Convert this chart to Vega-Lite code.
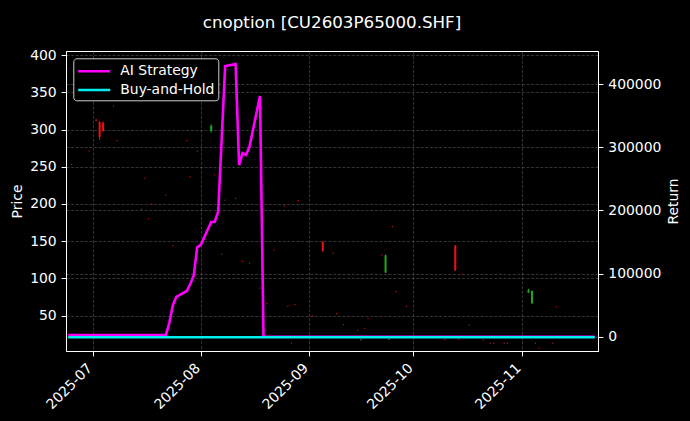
{
  "$schema": "https://vega.github.io/schema/vega-lite/v6.json",
  "width": 532,
  "height": 300,
  "autosize": {"type": "none"},
  "padding": {"left": 66, "top": 51, "right": 92, "bottom": 70},
  "background": "#000000",
  "title": {
    "text": "cnoption [CU2603P65000.SHF]",
    "color": "#ffffff",
    "font": "DejaVu Sans",
    "fontSize": 16.7,
    "fontWeight": "normal",
    "anchor": "middle",
    "frame": "group",
    "offset": 16
  },
  "config": {
    "view": {"stroke": "#ffffff", "strokeWidth": 1},
    "font": "DejaVu Sans",
    "axis": {
      "domainColor": "#ffffff",
      "tickColor": "#ffffff",
      "labelColor": "#ffffff",
      "titleColor": "#ffffff",
      "labelFont": "DejaVu Sans",
      "titleFont": "DejaVu Sans",
      "labelFontSize": 13.9,
      "titleFontSize": 13.9,
      "titleFontWeight": "normal",
      "tickSize": 4.9,
      "labelPadding": 4.9,
      "titlePadding": 5.6,
      "gridColor": "#808080",
      "gridOpacity": 0.5,
      "gridDash": [3, 1.6],
      "gridWidth": 0.8
    }
  },
  "datasets": {
    "candles": [
      {"date": "2025-06-25", "open": 253, "high": 253.8, "low": 252.2, "close": 253},
      {"date": "2025-06-30", "open": 271, "high": 271.8, "low": 270.2, "close": 271},
      {"date": "2025-07-02", "open": 313, "high": 314, "low": 311.5, "close": 312},
      {"date": "2025-07-03", "open": 310, "high": 311, "low": 286, "close": 290},
      {"date": "2025-07-04", "open": 309, "high": 311, "low": 297, "close": 298},
      {"date": "2025-07-07", "open": 331.5, "high": 332.3, "low": 330.7, "close": 331.5},
      {"date": "2025-07-08", "open": 285, "high": 285.8, "low": 284.2, "close": 285},
      {"date": "2025-07-15", "open": 193, "high": 193.8, "low": 192.2, "close": 193},
      {"date": "2025-07-16", "open": 234.5, "high": 235.3, "low": 233.7, "close": 234.5},
      {"date": "2025-07-17", "open": 180, "high": 180.8, "low": 179.2, "close": 180},
      {"date": "2025-07-18", "open": 200, "high": 200.8, "low": 199.2, "close": 200},
      {"date": "2025-07-22", "open": 212, "high": 212.8, "low": 211.2, "close": 212},
      {"date": "2025-07-24", "open": 144, "high": 144.8, "low": 143.2, "close": 144},
      {"date": "2025-07-28", "open": 285, "high": 285.8, "low": 284.2, "close": 285},
      {"date": "2025-07-29", "open": 236.5, "high": 237.3, "low": 235.7, "close": 236.5},
      {"date": "2025-07-31", "open": 271, "high": 271.8, "low": 270.2, "close": 271},
      {"date": "2025-08-04", "open": 298, "high": 307, "low": 296, "close": 305},
      {"date": "2025-08-05", "open": 239, "high": 239.8, "low": 238.2, "close": 239},
      {"date": "2025-08-07", "open": 132.5, "high": 133.3, "low": 131.7, "close": 132.5},
      {"date": "2025-08-08", "open": 205, "high": 205.8, "low": 204.2, "close": 205},
      {"date": "2025-08-11", "open": 207.5, "high": 208.3, "low": 206.7, "close": 207.5},
      {"date": "2025-08-13", "open": 123, "high": 123.8, "low": 122.2, "close": 123},
      {"date": "2025-08-15", "open": 120.5, "high": 121.3, "low": 119.7, "close": 120.5},
      {"date": "2025-08-18", "open": 87, "high": 87.8, "low": 86.2, "close": 87},
      {"date": "2025-08-20", "open": 66.5, "high": 67.3, "low": 65.7, "close": 66.5},
      {"date": "2025-08-22", "open": 138, "high": 138.8, "low": 137.2, "close": 138},
      {"date": "2025-08-25", "open": 197, "high": 197.8, "low": 196.2, "close": 197},
      {"date": "2025-08-26", "open": 63, "high": 63.8, "low": 62.2, "close": 63},
      {"date": "2025-08-27", "open": 13, "high": 13.8, "low": 12.2, "close": 13},
      {"date": "2025-08-28", "open": 65, "high": 65.8, "low": 64.2, "close": 65},
      {"date": "2025-08-29", "open": 204.5, "high": 205.3, "low": 203.7, "close": 204.5},
      {"date": "2025-09-02", "open": 49.5, "high": 50.3, "low": 48.7, "close": 49.5},
      {"date": "2025-09-05", "open": 149, "high": 150, "low": 136, "close": 137},
      {"date": "2025-09-08", "open": 134, "high": 134.8, "low": 133.2, "close": 134},
      {"date": "2025-09-09", "open": 53, "high": 53.8, "low": 52.2, "close": 53},
      {"date": "2025-09-11", "open": 38, "high": 38.8, "low": 37.2, "close": 38},
      {"date": "2025-09-15", "open": 30.5, "high": 31.3, "low": 29.7, "close": 30.5},
      {"date": "2025-09-16", "open": 17.5, "high": 18.3, "low": 16.7, "close": 17.8},
      {"date": "2025-09-17", "open": 33, "high": 33.8, "low": 32.2, "close": 33},
      {"date": "2025-09-18", "open": 46, "high": 46.8, "low": 45.2, "close": 46},
      {"date": "2025-09-22", "open": 131.5, "high": 132.3, "low": 130.7, "close": 131.5},
      {"date": "2025-09-23", "open": 108, "high": 132, "low": 107.5, "close": 131},
      {"date": "2025-09-24", "open": 18.2, "high": 19, "low": 17.4, "close": 18.5},
      {"date": "2025-09-25", "open": 169.5, "high": 170.3, "low": 168.7, "close": 169.5},
      {"date": "2025-09-26", "open": 82.5, "high": 83.3, "low": 81.7, "close": 82.5},
      {"date": "2025-09-29", "open": 62.5, "high": 63.3, "low": 61.7, "close": 62.5},
      {"date": "2025-10-10", "open": 18, "high": 18.8, "low": 17.2, "close": 18},
      {"date": "2025-10-13", "open": 144, "high": 145, "low": 110, "close": 111},
      {"date": "2025-10-14", "open": 18.3, "high": 19.1, "low": 17.5, "close": 18.3},
      {"date": "2025-10-15", "open": 105.5, "high": 106.3, "low": 104.7, "close": 105.5},
      {"date": "2025-10-17", "open": 37.5, "high": 38.3, "low": 36.7, "close": 37.5},
      {"date": "2025-10-21", "open": 17.5, "high": 18.3, "low": 16.7, "close": 17.5},
      {"date": "2025-10-23", "open": 13, "high": 13.8, "low": 12.2, "close": 13},
      {"date": "2025-10-24", "open": 13, "high": 13.8, "low": 12.2, "close": 13},
      {"date": "2025-10-27", "open": 13, "high": 13.8, "low": 12.2, "close": 13},
      {"date": "2025-10-28", "open": 13, "high": 13.8, "low": 12.2, "close": 13},
      {"date": "2025-11-03", "open": 81, "high": 86, "low": 80.5, "close": 85},
      {"date": "2025-11-04", "open": 67, "high": 84, "low": 65.5, "close": 83},
      {"date": "2025-11-05", "open": 13, "high": 13.8, "low": 12.2, "close": 13},
      {"date": "2025-11-06", "open": 6.6, "high": 7.4, "low": 5.8, "close": 6.6},
      {"date": "2025-11-10", "open": 13, "high": 13.8, "low": 12.2, "close": 13},
      {"date": "2025-11-11", "open": 62, "high": 62.8, "low": 61.2, "close": 62}
    ],
    "returns": [
      {"date": "2025-06-24", "series": "AI Strategy", "value": 2500},
      {"date": "2025-07-22", "series": "AI Strategy", "value": 2500},
      {"date": "2025-07-23", "series": "AI Strategy", "value": 22000},
      {"date": "2025-07-24", "series": "AI Strategy", "value": 50000},
      {"date": "2025-07-25", "series": "AI Strategy", "value": 63000},
      {"date": "2025-07-28", "series": "AI Strategy", "value": 72400},
      {"date": "2025-07-29", "series": "AI Strategy", "value": 83500},
      {"date": "2025-07-30", "series": "AI Strategy", "value": 97000},
      {"date": "2025-07-31", "series": "AI Strategy", "value": 142000},
      {"date": "2025-08-01", "series": "AI Strategy", "value": 145300},
      {"date": "2025-08-04", "series": "AI Strategy", "value": 181800},
      {"date": "2025-08-05", "series": "AI Strategy", "value": 181800},
      {"date": "2025-08-06", "series": "AI Strategy", "value": 198000},
      {"date": "2025-08-07", "series": "AI Strategy", "value": 311700},
      {"date": "2025-08-08", "series": "AI Strategy", "value": 429000},
      {"date": "2025-08-11", "series": "AI Strategy", "value": 432000},
      {"date": "2025-08-12", "series": "AI Strategy", "value": 272000},
      {"date": "2025-08-13", "series": "AI Strategy", "value": 291000},
      {"date": "2025-08-14", "series": "AI Strategy", "value": 288000},
      {"date": "2025-08-15", "series": "AI Strategy", "value": 301400},
      {"date": "2025-08-18", "series": "AI Strategy", "value": 381500},
      {"date": "2025-08-19", "series": "AI Strategy", "value": 0},
      {"date": "2025-11-22", "series": "AI Strategy", "value": 0},
      {"date": "2025-06-24", "series": "Buy-and-Hold", "value": -800},
      {"date": "2025-08-01", "series": "Buy-and-Hold", "value": -800},
      {"date": "2025-09-01", "series": "Buy-and-Hold", "value": -800},
      {"date": "2025-10-01", "series": "Buy-and-Hold", "value": -800},
      {"date": "2025-11-22", "series": "Buy-and-Hold", "value": -800}
    ]
  },
  "encoding": {
    "x": {
      "field": "date",
      "type": "temporal",
      "scale": {
        "type": "utc",
        "domain": [
          {"year": 2025, "month": 6, "date": 24, "hours": 19, "utc": true},
          {"year": 2025, "month": 11, "date": 21, "hours": 12, "utc": true}
        ]
      },
      "axis": {
        "title": null,
        "grid": true,
        "values": [
          {"year": 2025, "month": 7, "date": 1, "utc": true},
          {"year": 2025, "month": 8, "date": 1, "utc": true},
          {"year": 2025, "month": 9, "date": 1, "utc": true},
          {"year": 2025, "month": 10, "date": 1, "utc": true},
          {"year": 2025, "month": 11, "date": 1, "utc": true}
        ],
        "labelExpr": "utcFormat(datum.value, '%Y-%m')",
        "labelAngle": -45,
        "labelAlign": "right",
        "labelBaseline": "top",
        "labelOffset": -8,
        "labelBound": false,
        "labelOverlap": false
      }
    }
  },
  "layer": [
    {
      "data": {"name": "candles"},
      "layer": [
        {
          "mark": {"type": "rule", "strokeWidth": 1, "clip": true},
          "encoding": {
            "y": {
              "field": "low",
              "type": "quantitative",
              "scale": {"domain": [2.6, 405.4], "nice": false, "zero": false},
              "axis": {"orient": "left", "title": "Price", "grid": true, "values": [50, 100, 150, 200, 250, 300, 350, 400]}
            },
            "y2": {"field": "high"},
            "color": {"condition": {"test": "datum.close > datum.open", "value": "#22a622"}, "value": "#f01010"}
          }
        },
        {
          "mark": {"type": "bar", "width": 2, "clip": true},
          "encoding": {
            "y": {
              "field": "open",
              "type": "quantitative",
              "scale": {"domain": [2.6, 405.4], "nice": false, "zero": false},
              "axis": {"orient": "left", "title": "Price", "grid": true, "values": [50, 100, 150, 200, 250, 300, 350, 400]}
            },
            "y2": {"field": "close"},
            "color": {"condition": {"test": "datum.close > datum.open", "value": "#22a622"}, "value": "#f01010"}
          }
        }
      ]
    },
    {
      "data": {"name": "returns"},
      "mark": {"type": "line", "strokeWidth": 2.6, "clip": true},
      "encoding": {
        "y": {
          "field": "value",
          "type": "quantitative",
          "scale": {"domain": [-22700, 452800], "nice": false, "zero": false},
          "axis": {
            "orient": "right",
            "title": "Return",
            "titleAngle": 270,
            "titleX": 75,
            "titleY": 150,
            "titleAlign": "center",
            "titleBaseline": "middle",
            "grid": true,
            "format": "d",
            "values": [0, 100000, 200000, 300000, 400000]
          }
        },
        "color": {
          "field": "series",
          "type": "nominal",
          "scale": {"domain": ["AI Strategy", "Buy-and-Hold"], "range": ["#ff00ff", "#00eeee"]},
          "legend": {
            "title": null,
            "orient": "none",
            "legendX": 7.3,
            "legendY": 7.3,
            "symbolType": "M-1,0H3",
            "symbolSize": 256,
            "symbolStrokeWidth": 2.6,
            "symbolFillColor": "transparent",
            "padding": 3.4,
            "rowPadding": 1.8,
            "labelOffset": 24.6,
            "labelColor": "#ffffff",
            "labelFont": "DejaVu Sans",
            "labelFontSize": 13.9,
            "strokeColor": "#cccccc",
            "fillColor": "#000000",
            "cornerRadius": 3
          }
        }
      }
    }
  ],
  "resolve": {"scale": {"y": "independent"}}
}
